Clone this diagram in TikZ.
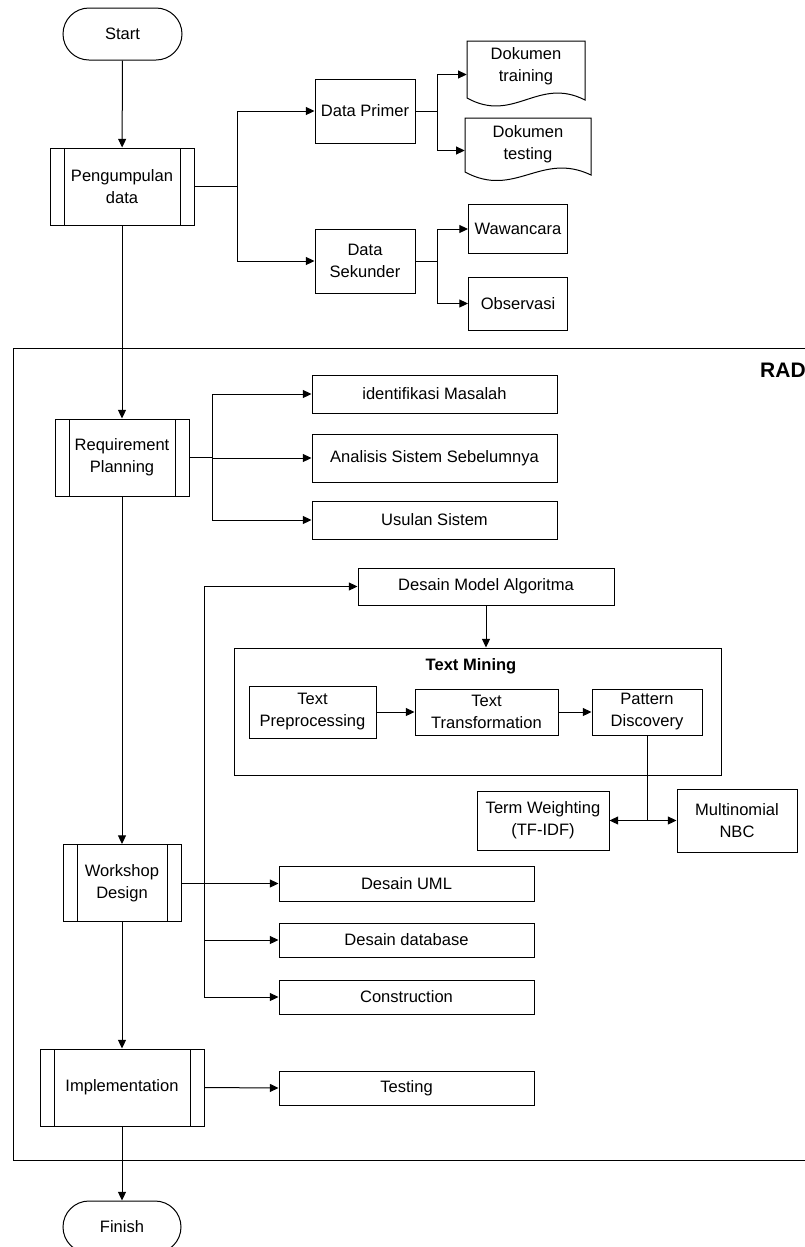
\documentclass[tikz,border=0pt]{standalone}
\usepackage{fontspec}
\setmainfont{Liberation Sans}
\usetikzlibrary{arrows.meta,shapes.misc}
\begin{document}
\begin{tikzpicture}[x=0.75pt,y=-0.75pt,
  every node/.style={font=\fontsize{12.4}{16.5}\selectfont, align=center, inner sep=0pt},
  wh/.style 2 args={minimum width=#1*0.75pt, minimum height=#2*0.75pt},
  box/.style={draw, rectangle, line width=0.75pt},
  proc/.style={box, path picture={
      \draw[line width=0.75pt] ([xshift=10.5pt]path picture bounding box.north west) -- ([xshift=10.5pt]path picture bounding box.south west);
      \draw[line width=0.75pt] ([xshift=-10.5pt]path picture bounding box.north east) -- ([xshift=-10.5pt]path picture bounding box.south east);}},
  term/.style={draw, rounded rectangle, line width=0.75pt},
  arr/.style={-{Triangle[length=6.5pt,width=6pt]}, line width=0.75pt},
  ln/.style={line width=0.75pt}]
\useasboundingbox (0,0) rectangle (805,1247);
\clip (0,0) rectangle (805,1247);

% RAD container
\node[box, wh={817}{812}, anchor=north west] (rad) at (13,348) {};
\node[font=\fontsize{15.75}{18}\selectfont\bfseries, anchor=base east] (radlbl) at (806,377) {RAD};

% main flow
\node[term, wh={119}{52}] (start) at (122.5,34) {Start};
\node[proc, wh={144}{77}] (peng) at (122,186.5) {Pengumpulan\\data};
\node[box, wh={100}{64}] (dprim) at (365,111) {Data Primer};
\node[box, wh={100}{64}] (dsek) at (365,261) {Data\\Sekunder};

% documents
\node[wh={118}{67}] (doctrain) at (526,74.5) {};
\draw[ln] (467,98) -- (467,41) -- (585,41) -- (585,100) .. controls (538,76) and (514,124) .. (467,98) -- cycle;
\node (doctraintxt) at (526,66) {Dokumen\\training};
\node[wh={126}{65}] (doctest) at (528,150.5) {};
\draw[ln] (465,172) -- (465,118) -- (591,118) -- (591,175) .. controls (541,151) and (515,199) .. (465,172) -- cycle;
\node (doctesttxt) at (528,144) {Dokumen\\testing};

\node[box, wh={99}{49}] (waw) at (518,229) {Wawancara};
\node[box, wh={99}{53}] (obs) at (518,303.5) {Observasi};

\node[proc, wh={134}{77}] (rp) at (122,457.5) {Requirement\\Planning};
\node[box, wh={245}{38}] (idm) at (434.5,394) {identifikasi Masalah};
\node[box, wh={245}{48}] (asis) at (434.5,458) {Analisis Sistem Sebelumnya};
\node[box, wh={245}{38}] (usul) at (434.5,520) {Usulan Sistem};

\node[box, wh={256}{37}] (dma) at (486,586.5) {Desain Model Algoritma};
\node[box, wh={487}{127}] (tm) at (477.5,711.5) {};
\node[font=\fontsize{12.4}{16.5}\selectfont\bfseries] (tmtitle) at (471,666) {Text Mining};
\node[box, wh={127}{52}] (tp) at (312.5,712) {Text\\Preprocessing};
\node[box, wh={143}{46}] (tt) at (486.5,712) {Text\\Transformation};
\node[box, wh={110}{46}] (pd) at (647,712) {Pattern\\Discovery};
\node[box, wh={132}{59}] (tw) at (543,820.5) {Term Weighting\\(TF-IDF)};
\node[box, wh={120}{63}] (mn) at (737,820.5) {Multinomial\\NBC};

\node[proc, wh={118}{77}] (wd) at (122,883) {Workshop\\Design};
\node[box, wh={255}{35}] (uml) at (406.5,883.5) {Desain UML};
\node[box, wh={255}{34}] (db) at (406.5,940) {Desain database};
\node[box, wh={255}{34}] (cons) at (406.5,997) {Construction};

\node[proc, wh={164}{77}] (impl) at (122,1087.5) {Implementation};
\node[box, wh={255}{34}] (test) at (406.5,1088) {Testing};
\node[term, wh={118}{52}] (finish) at (122,1227) {Finish};

% connectors
\draw[arr] (start) -- (peng);
\draw[ln] (peng.east) -- ++(43,0) coordinate (b1);
\draw[arr] (b1) |- (dprim.west);
\draw[arr] (b1) |- (dsek.west);
\draw[ln] (dprim.east) -- ++(22,0) coordinate (b2);
\draw[arr] (b2) |- (doctrain.west);
\draw[arr] (b2) |- (doctest.west);
\draw[ln] (dsek.east) -- ++(22,0) coordinate (b3);
\draw[arr] (b3) |- (waw.west);
\draw[arr] (b3) |- (obs.west);

\draw[arr] (peng.south) -- (rp.north);
\draw[ln] (rp.east) -- ++(23,0) coordinate (b4);
\draw[arr] (b4) |- (idm.west);
\draw[arr] (b4) |- (asis.west);
\draw[arr] (b4) |- (usul.west);

\draw[arr] (rp.south) -- (wd.north);
\draw[ln] (wd.east) -- ++(23,0) coordinate (b5);
\draw[arr] (b5) |- (dma.west);
\draw[arr] (b5) |- (uml.west);
\draw[arr] (b5) |- (db.west);
\draw[arr] (b5) |- (cons.west);

\draw[arr] (dma.south) -- (dma.south |- tm.north);
\draw[arr] (tp.east) -- (tt.west);
\draw[arr] (tt.east) -- (pd.west);
\draw[ln] (pd.south) -- (pd.south |- tw.east) coordinate (b6);
\draw[arr] (b6) -- (tw.east);
\draw[arr] (b6) -- (mn.west);

\draw[arr] (wd.south) -- (impl.north);
\draw[arr] (impl.east) -- (test.west);
\draw[arr] (impl.south) -- (finish.north);
\end{tikzpicture}
\end{document}
